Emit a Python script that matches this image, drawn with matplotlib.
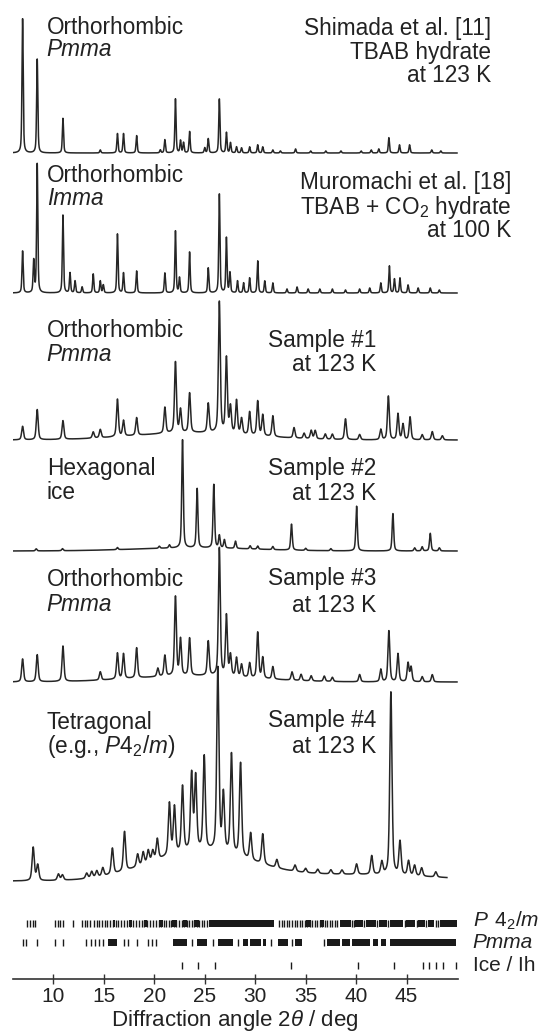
import numpy as np
import matplotlib
matplotlib.use("Agg")
import matplotlib.pyplot as plt

plt.rcParams['font.family'] = ['Liberation Sans', 'DejaVu Sans']
plt.rcParams['mathtext.fontset'] = 'custom'
plt.rcParams['mathtext.rm'] = 'Liberation Sans'
plt.rcParams['mathtext.it'] = 'Liberation Sans:italic'
plt.rcParams['mathtext.bf'] = 'Liberation Sans:bold'

# ---------------- data: peak lists (2theta in deg, relative intensity) ----------------
shimada_pos = [6.95, 8.4, 10.95, 14.65, 16.35, 16.95, 18.25, 20.6, 21.05, 22.1, 22.6, 22.9, 23.5, 25.0,
               25.35, 26.45, 27.15, 27.55, 28.15, 28.65, 29.45, 30.25, 30.75, 31.75, 32.5, 34.0, 35.5,
               37.0, 38.5, 40.5, 41.5, 42.25, 43.25, 44.3, 45.3, 47.5, 48.4]
shimada_int = [132, 92, 34, 3, 19, 19, 17, 3, 13, 53, 12, 10, 21, 5,
               14, 53, 20, 10, 6, 5, 6, 8, 6, 3, 2, 4, 2,
               2, 2, 2, 3, 4, 15, 8, 8, 3, 2]

muromachi_pos = [6.95, 8.05, 8.4, 10.95, 11.65, 12.15, 12.85, 13.95, 14.65, 14.95, 16.35, 16.95, 18.25,
                 21.05, 22.1, 22.5, 23.5, 25.35, 26.45, 27.15, 27.5, 28.25, 28.85, 29.45, 30.25, 30.95,
                 31.75, 33.15, 34.15, 35.25, 36.4, 37.65, 38.95, 40.35, 41.35, 42.45, 43.3, 43.8, 44.35,
                 45.15, 46.15, 47.35, 48.25]
muromachi_int = [42, 32, 129, 78, 20, 12, 6, 19, 12, 8, 59, 20, 22,
                 20, 62, 15, 41, 25, 99, 55, 20, 12, 10, 15, 32, 12,
                 10, 4, 6, 4, 4, 4, 3, 4, 5, 10, 27, 14, 15,
                 8, 5, 5, 3]

s1_pos = [6.95, 8.4, 10.95, 13.95, 14.65, 16.35, 16.95, 18.25, 21.05, 22.1, 22.6, 23.5, 25.35, 26.45,
          27.15, 27.55, 28.15, 28.65, 29.45, 30.25, 30.75, 31.75, 33.85, 34.85, 35.55, 35.95, 36.95,
          37.65, 38.95, 40.35, 42.45, 43.2, 44.15, 44.65, 45.35, 46.55, 47.55, 48.55]
s1_int = [13, 29, 18, 6, 8, 36, 15, 17, 25, 68, 22, 38, 28, 126,
          72, 25, 32, 15, 22, 33, 20, 20, 10, 5, 8, 8, 5,
          5, 20, 5, 10, 42, 25, 15, 22, 5, 8, 4]
s1_bg_pos, s1_bg_int, s1_bg_sig = [24.0], [7], [6.0]

s2_pos = [8.3, 10.9, 16.35, 20.5, 21.5, 22.8, 24.25, 25.9, 26.45, 26.95, 28.05, 29.5, 30.25, 31.75,
          33.6, 35.0, 37.5, 40.05, 43.65, 45.8, 46.55, 47.35, 48.25]
s2_int = [2, 2, 2, 2, 3, 104, 57, 61, 12, 8, 7, 3, 3, 3,
          25, 2, 2, 43, 36, 3, 4, 17, 3]
s2_bg_pos, s2_bg_int, s2_bg_sig = [24.0], [3], [6.0]

s3_pos = [6.95, 8.4, 10.95, 14.65, 16.35, 16.95, 18.25, 20.35, 21.05, 22.1, 22.6, 23.5, 25.35, 26.45,
          27.15, 27.55, 28.15, 28.65, 29.45, 30.25, 30.75, 31.75, 33.65, 34.55, 35.55, 36.85, 37.65,
          40.35, 42.45, 43.25, 44.15, 45.15, 45.45, 46.55, 47.55]
s3_int = [22, 26, 34, 8, 25, 24, 29, 8, 20, 76, 35, 36, 33, 123,
          58, 20, 18, 12, 14, 44, 20, 12, 8, 6, 5, 5, 4,
          7, 12, 49, 27, 18, 14, 5, 7]
s3_bg_pos, s3_bg_int, s3_bg_sig = [24.0], [6], [6.0]

s4_pos = [8.0, 8.45, 10.5, 10.9, 13.3, 13.8, 14.3, 14.9, 15.85, 17.05, 18.35, 18.9, 19.4, 19.85, 20.3,
          21.5, 22.0, 22.8, 23.7, 24.1, 24.95, 26.3, 26.85, 27.65, 28.55, 29.55, 30.75, 32.15, 33.95,
          35.0, 36.2, 37.5, 38.6, 40.05, 41.55, 42.55, 43.45, 44.35, 45.2, 45.8, 46.5, 47.9]
s4_int = [32, 15, 6, 5, 5, 6, 6, 8, 25, 38, 12, 12, 12, 10, 20,
          50, 45, 63, 73, 70, 90, 176, 55, 96, 90, 26, 29, 8, 6,
          4, 4, 4, 4, 10, 18, 12, 176, 32, 14, 10, 8, 5]
s4_bg_pos, s4_bg_int, s4_bg_sig = [24.5, 40.0], [28, 6], [5.0, 8.0]

# reflection tick marks
p42m_ticks = [7.42, 7.69, 7.95, 8.22, 10.17, 10.43, 10.66, 10.99, 11.9, 12.8, 13.1, 13.35, 13.6,
              14.0, 14.3, 14.55, 14.8, 15.1, 15.35, 15.6, 15.9, 16.2, 16.45, 16.75, 17.0, 17.3, 17.6,
              17.9, 18.15, 18.45, 18.75, 19.0, 19.3, 19.55, 19.85, 20.2, 20.45, 20.7, 20.95, 21.2,
              21.45, 21.7, 21.95, 22.2, 22.45, 22.7, 22.95, 23.2, 23.45, 23.7, 23.95, 24.2, 24.45,
              24.7, 24.95, 25.2, 32.4, 32.65, 32.9, 33.15, 33.4, 33.65, 33.9, 34.15, 34.4, 34.65,
              34.9, 35.15, 35.4, 35.65, 35.9, 36.15, 36.4, 36.65, 36.9, 37.15, 37.4, 37.65, 37.9,
              38.15, 39.6, 39.75, 40.8, 42.1, 43.2, 44.8, 46.0, 46.95, 47.9, 48.1]
p42m_blocks = [(15.9, 16.1), (17.5, 17.8), (19.0, 19.3), (20.5, 20.9), (21.8, 22.3), (22.8, 23.2),
               (23.9, 24.4), (25.4, 31.9), (35.0, 35.5), (36.4, 36.8), (38.4, 39.45), (39.9, 40.65),
               (40.95, 41.95), (42.25, 43.05), (43.35, 44.65), (44.95, 45.85), (46.15, 46.8),
               (47.1, 47.75), (48.3, 50.0)]
pmma_ticks = [6.96, 7.29, 8.42, 10.17, 10.99, 13.24, 13.7, 14.13, 14.56, 14.95, 17.0, 17.43, 18.25,
              19.4, 19.74, 20.17, 23.7, 25.85, 28.3, 31.6, 33.6, 36.8]
pmma_blocks = [(15.45, 16.27), (21.9, 23.2), (24.2, 25.2), (26.34, 27.8), (28.8, 29.3), (29.5, 30.6),
               (30.8, 31.1), (32.3, 33.3), (33.9, 34.6), (37.1, 38.4), (38.6, 39.4), (39.55, 41.4),
               (41.7, 42.2), (42.5, 43.0), (43.35, 49.95)]
ice_ticks = [22.78, 24.36, 26.0, 33.55, 40.15, 43.74, 46.6, 47.25, 47.9, 48.6, 49.95]

xticks = [10, 15, 20, 25, 30, 35, 40, 45]

# ---------------- layout ----------------
W, H = 543, 1033
AX_L, AX_R, AX_BOT = 12.5, 458.0, 979.0      # pixel positions
XMIN, XMAX = 5.95, 50.1

fig = plt.figure(figsize=(W / 100, H / 100), dpi=100)
ax = fig.add_axes([AX_L / W, (H - AX_BOT) / H, (AX_R - AX_L) / W, AX_BOT / H])
ax.set_xlim(XMIN, XMAX)
ax.set_ylim(0, AX_BOT)


def py(p):
    """pixel row (from top) -> data y"""
    return AX_BOT - p


def profile(x, pos, amp, fwhm, eta=0.5):
    y = np.zeros_like(x)
    for p, a in zip(pos, amp):
        d = (x - p) / fwhm
        y += a * (eta / (1 + 4 * d * d) + (1 - eta) * np.exp(-4 * np.log(2) * d * d))
    return y


def broad(x, pos, amp, sig):
    y = np.zeros_like(x)
    for p, a, s in zip(pos, amp, sig):
        y += a * np.exp(-0.5 * ((x - p) / s) ** 2)
    return y


line_kw = dict(color='#262626', lw=1.1, solid_joinstyle='round')

patterns = [
    (shimada_pos, shimada_int, None, 0.14, 153, 1.02, 50.0),
    (muromachi_pos, muromachi_int, None, 0.14, 293, 1.00, 50.0),
    (s1_pos, s1_int, (s1_bg_pos, s1_bg_int, s1_bg_sig), 0.22, 440, 1.04, 50.0),
    (s2_pos, s2_int, (s2_bg_pos, s2_bg_int, s2_bg_sig), 0.18, 551, 1.04, 50.0),
    (s3_pos, s3_int, (s3_bg_pos, s3_bg_int, s3_bg_sig), 0.22, 682, 1.04, 50.0),
    (s4_pos, s4_int, (s4_bg_pos, s4_bg_int, s4_bg_sig), 0.26, 881, 1.04, 49.0),
]
for pos, inten, bg, fw, base, sc, xend in patterns:
    x = np.linspace(XMIN, xend, 5000)
    y = profile(x, pos, inten, fw)
    if bg is not None:
        y = y + broad(x, *bg)
    ax.plot(x, py(base) + sc * y, **line_kw)

# reflection rows
rows = [(p42m_ticks, p42m_blocks, 923), (pmma_ticks, pmma_blocks, 942), (ice_ticks, [], 965)]
for ticks, blocks, rp in rows:
    yc = py(rp)
    ax.vlines(ticks, yc - 3.5, yc + 3.5, color='#1a1a1a', lw=1.0)
    if blocks:
        ax.broken_barh([(a, b - a) for a, b in blocks], (yc - 3.5, 7), facecolor='#1a1a1a',
                       edgecolor='none')

# axes styling
for s in ['left', 'right', 'top']:
    ax.spines[s].set_visible(False)
ax.spines['bottom'].set_linewidth(1.2)
ax.spines['bottom'].set_color('#333333')
ax.set_yticks([])
ax.set_xticks(xticks)
ax.set_xticklabels([str(t) for t in xticks], fontsize=15, color='#222222')
ax.tick_params(axis='x', direction='inout', length=7, width=1.0, color='#333333', pad=2)


def ftxt(xp, yp, s, ha='left', size=16.3, style='normal'):
    fig.text(xp / W, 1 - yp / H, s, ha=ha, va='baseline', fontsize=size, style=style,
             color='#222222')


# left labels
ftxt(46.7, 34, 'Orthorhombic'); ftxt(46.7, 56, 'Pmma', style='italic')
ftxt(46.7, 182, 'Orthorhombic'); ftxt(46.7, 205, 'Imma', style='italic')
ftxt(46.7, 337, 'Orthorhombic'); ftxt(46.7, 361, 'Pmma', style='italic')
ftxt(46.7, 475, 'Hexagonal'); ftxt(46.7, 499, 'ice')
ftxt(46.7, 586, 'Orthorhombic'); ftxt(46.7, 611, 'Pmma', style='italic')
ftxt(46.7, 729, 'Tetragonal'); ftxt(46.7, 753, '(e.g., $P4_2/m$)')

# right labels
ftxt(491, 35, 'Shimada et al. [11]', ha='right')
ftxt(491, 59, 'TBAB hydrate', ha='right')
ftxt(491, 82, 'at 123 K', ha='right')
ftxt(511, 189, 'Muromachi et al. [18]', ha='right')
ftxt(511, 214, 'TBAB + CO$_2$ hydrate', ha='right')
ftxt(511, 237, 'at 100 K', ha='right')
for (y1, y2, name) in [(347, 371, 'Sample #1'), (475, 500, 'Sample #2'),
                       (585, 612, 'Sample #3'), (727, 753, 'Sample #4')]:
    ftxt(376, y1, name, ha='right')
    ftxt(376, y2, 'at 123 K', ha='right')

# row labels
ftxt(472.7, 927, '$P\\;\\,4_2/m$', size=15)
ftxt(472.7, 948, 'Pmma', size=15, style='italic')
ftxt(472.7, 971, 'Ice / Ih', size=15)

# x label
ftxt((AX_L + AX_R) / 2, 1026, 'Diffraction angle 2$\\theta$ / deg', ha='center', size=16)

fig.savefig('out.png', dpi=100)
